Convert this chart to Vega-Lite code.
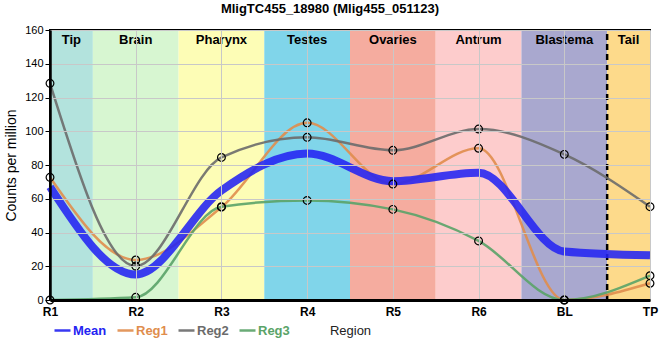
{
  "$schema": "https://vega.github.io/schema/vega-lite/v6.json",
  "width": 600,
  "height": 270,
  "autosize": {"type": "none"},
  "padding": {"left": 50, "top": 30, "right": 10, "bottom": 60},
  "background": "white",
  "config": {
    "font": "Liberation Sans",
    "view": {"stroke": "black", "strokeWidth": 2}
  },
  "title": {
    "text": "MligTC455_18980 (Mlig455_051123)",
    "fontSize": 13,
    "fontWeight": "bold",
    "font": "Liberation Sans",
    "color": "black",
    "offset": 8,
    "dx": -20,
    "anchor": "middle"
  },
  "datasets": {
    "bands": [
      {"region": "Tip", "start": 0, "end": 0.5, "mid": 0.25},
      {"region": "Brain", "start": 0.5, "end": 1.5, "mid": 1},
      {"region": "Pharynx", "start": 1.5, "end": 2.5, "mid": 2},
      {"region": "Testes", "start": 2.5, "end": 3.5, "mid": 3},
      {"region": "Ovaries", "start": 3.5, "end": 4.5, "mid": 4},
      {"region": "Antrum", "start": 4.5, "end": 5.5, "mid": 5},
      {"region": "Blastema", "start": 5.5, "end": 6.5, "mid": 6},
      {"region": "Tail", "start": 6.5, "end": 7, "mid": 6.75}
    ],
    "divider": [{"boundary": 6.5}],
    "expr": [
      {"region": "R1", "pos": 0, "series": "Mean", "cpm": 67.0},
      {"region": "R2", "pos": 1, "series": "Mean", "cpm": 15.1},
      {"region": "R3", "pos": 2, "series": "Mean", "cpm": 64.9},
      {"region": "R4", "pos": 3, "series": "Mean", "cpm": 86.8},
      {"region": "R5", "pos": 4, "series": "Mean", "cpm": 70.4},
      {"region": "R6", "pos": 5, "series": "Mean", "cpm": 75.4},
      {"region": "BL", "pos": 6, "series": "Mean", "cpm": 28.8},
      {"region": "TP", "pos": 7, "series": "Mean", "cpm": 26.5},
      {"region": "R1", "pos": 0, "series": "Reg1", "cpm": 72.7},
      {"region": "R2", "pos": 1, "series": "Reg1", "cpm": 23.7},
      {"region": "R3", "pos": 2, "series": "Reg1", "cpm": 55.0},
      {"region": "R4", "pos": 3, "series": "Reg1", "cpm": 105.0},
      {"region": "R5", "pos": 4, "series": "Reg1", "cpm": 68.7},
      {"region": "R6", "pos": 5, "series": "Reg1", "cpm": 89.9},
      {"region": "BL", "pos": 6, "series": "Reg1", "cpm": 0.0},
      {"region": "TP", "pos": 7, "series": "Reg1", "cpm": 9.9},
      {"region": "R1", "pos": 0, "series": "Reg2", "cpm": 128.4},
      {"region": "R2", "pos": 1, "series": "Reg2", "cpm": 20.1},
      {"region": "R3", "pos": 2, "series": "Reg2", "cpm": 84.5},
      {"region": "R4", "pos": 3, "series": "Reg2", "cpm": 96.4},
      {"region": "R5", "pos": 4, "series": "Reg2", "cpm": 88.7},
      {"region": "R6", "pos": 5, "series": "Reg2", "cpm": 101.3},
      {"region": "BL", "pos": 6, "series": "Reg2", "cpm": 86.3},
      {"region": "TP", "pos": 7, "series": "Reg2", "cpm": 55.3},
      {"region": "R1", "pos": 0, "series": "Reg3", "cpm": 0.0},
      {"region": "R2", "pos": 1, "series": "Reg3", "cpm": 1.6},
      {"region": "R3", "pos": 2, "series": "Reg3", "cpm": 55.3},
      {"region": "R4", "pos": 3, "series": "Reg3", "cpm": 59.0},
      {"region": "R5", "pos": 4, "series": "Reg3", "cpm": 53.7},
      {"region": "R6", "pos": 5, "series": "Reg3", "cpm": 35.0},
      {"region": "BL", "pos": 6, "series": "Reg3", "cpm": 0.0},
      {"region": "TP", "pos": 7, "series": "Reg3", "cpm": 14.4}
    ]
  },
  "layer": [
    {
      "data": {"name": "bands"},
      "mark": {"type": "rect"},
      "encoding": {
        "x": {
          "field": "start",
          "type": "quantitative",
          "scale": {"domain": [0, 7], "nice": false, "zero": false}
        },
        "x2": {"field": "end"},
        "fill": {
          "field": "region",
          "type": "nominal",
          "scale": {
            "domain": ["Tip", "Brain", "Pharynx", "Testes", "Ovaries", "Antrum", "Blastema", "Tail"],
            "range": ["#b3e3dd", "#d7f6d1", "#fdfdb6", "#80d5ea", "#f5ac9f", "#fdcccc", "#a9a8cf", "#fdda8b"]
          },
          "legend": null
        }
      }
    },
    {
      "data": {"name": "bands"},
      "mark": {"type": "text", "fontSize": 13, "fontWeight": "bold", "baseline": "top", "dy": 4, "color": "black"},
      "encoding": {
        "x": {"field": "mid", "type": "quantitative"},
        "y": {"datum": 160, "type": "quantitative"},
        "text": {"field": "region", "type": "nominal"}
      }
    },
    {
      "data": {"name": "divider"},
      "mark": {"type": "rule", "color": "black", "strokeWidth": 2.5, "strokeDash": [6, 4]},
      "encoding": {
        "x": {"field": "boundary", "type": "quantitative"},
        "y": {"datum": 0, "type": "quantitative"},
        "y2": {"datum": 160}
      }
    },
    {
      "data": {"name": "expr"},
      "transform": [{"filter": "datum.series !== 'Mean'"}],
      "mark": {"type": "line", "interpolate": "monotone", "strokeWidth": 2.5, "opacity": 0.9},
      "encoding": {
        "x": {"field": "pos", "type": "quantitative"},
        "y": {"field": "cpm", "type": "quantitative"},
        "color": {"field": "series", "type": "nominal"}
      }
    },
    {
      "data": {"name": "expr"},
      "transform": [{"filter": "datum.series === 'Mean'"}],
      "mark": {"type": "line", "interpolate": "monotone", "strokeWidth": 8, "opacity": 0.88},
      "encoding": {
        "x": {
          "field": "pos",
          "type": "quantitative",
          "axis": {
            "values": [0, 1, 2, 3, 4, 5, 6, 7],
            "labelExpr": "['R1','R2','R3','R4','R5','R6','BL','TP'][datum.value]",
            "title": "Region",
            "grid": true,
            "gridColor": "#c8c8c8",
            "gridWidth": 1,
            "domainColor": "black",
            "domainWidth": 3,
            "ticks": false,
            "labelFontSize": 12,
            "labelFontWeight": "bold",
            "labelColor": "black",
            "labelPadding": 6,
            "labelFlush": false,
            "labelOverlap": false,
            "titleFontSize": 13,
            "titleFontWeight": "normal",
            "titleColor": "#222222",
            "titlePadding": 7,
            "zindex": 1
          }
        },
        "y": {
          "field": "cpm",
          "type": "quantitative",
          "scale": {"domain": [0, 160], "nice": false},
          "axis": {
            "values": [0, 20, 40, 60, 80, 100, 120, 140, 160],
            "tickCount": 9,
            "title": "Counts per million",
            "grid": true,
            "gridColor": "#c8c8c8",
            "gridWidth": 1,
            "domainColor": "black",
            "domainWidth": 2.5,
            "tickColor": "black",
            "tickSize": 5,
            "labelFontSize": 11,
            "labelColor": "black",
            "labelPadding": 2,
            "labelOverlap": false,
            "titleFontSize": 14,
            "titleFontWeight": "normal",
            "titleColor": "black",
            "titlePadding": 6,
            "zindex": 1
          }
        },
        "color": {
          "field": "series",
          "type": "nominal",
          "scale": {
            "domain": ["Mean", "Reg1", "Reg2", "Reg3"],
            "range": ["#2323f2", "#e08d4d", "#6b6b6b", "#5aa368"]
          },
          "legend": {
            "orient": "none",
            "legendX": 3,
            "legendY": 291,
            "direction": "horizontal",
            "gridAlign": "none",
            "title": null,
            "symbolType": "stroke",
            "symbolSize": 256,
            "symbolStrokeWidth": 2.5,
            "labelFontSize": 13,
            "labelFontWeight": "bold",
            "labelOffset": 1,
            "labelColor": {"expr": "scale('color', datum.value)"},
            "columnPadding": 5,
            "padding": 0,
            "encode": {
              "symbols": {"update": {"strokeWidth": {"signal": "datum.value === 'Mean' ? 8 : 2.5"}}}
            }
          }
        }
      }
    },
    {
      "data": {"name": "expr"},
      "transform": [{"filter": "datum.series !== 'Mean'"}],
      "mark": {"type": "point", "shape": "circle", "filled": false, "stroke": "black", "strokeWidth": 1.2, "size": 60, "opacity": 1},
      "encoding": {
        "x": {"field": "pos", "type": "quantitative"},
        "y": {"field": "cpm", "type": "quantitative"}
      }
    }
  ]
}
